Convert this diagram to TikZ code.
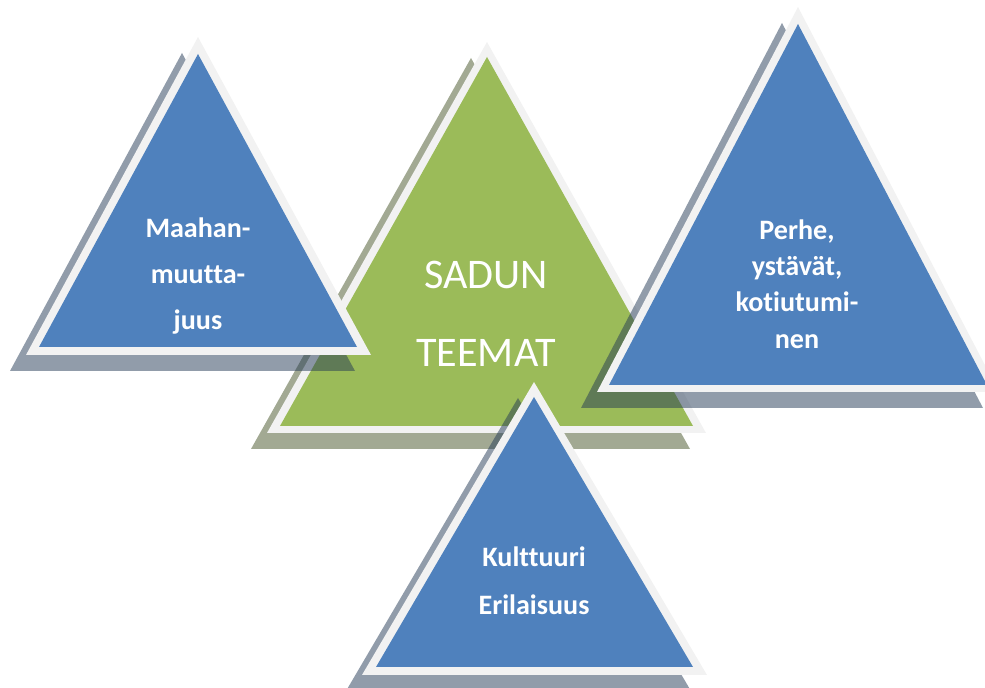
\documentclass[tikz,border=0pt]{standalone}
\usepackage{fontspec}
\setmainfont{Carlito}[Ligatures={NoCommon}]

\definecolor{tblue}{HTML}{4F81BD}
\definecolor{tgreen}{HTML}{9BBB59}
\definecolor{rim}{HTML}{F2F2F2}

\tikzset{
  castshadow/.style={fill=#1!45!black, opacity=0.5, shift={(-16,16)}},
  tritext/.style={text=white, align=center, font=\bfseries\fontsize{16}{#1}\selectfont},
  maintext/.style={text=white, align=center, font=\fontsize{24}{44.6}\selectfont}
}

\begin{document}
\begin{tikzpicture}[x=0.02cm, y=-0.02cm]
    \useasboundingbox (0,0) rectangle (985,688);
    \clip (0,0) rectangle (985,688);

    % sadun teemat
    \fill[castshadow=tgreen] (487,42) -- (267,433) -- (706,433) -- cycle;
    \fill[rim] (487,42) -- (267,433) -- (706,433) -- cycle;
    \fill[tgreen] (487,57) -- (280,426) -- (693,426) -- cycle;
    \node[maintext] (sadun) at (486,314) {SADUN\\TEEMAT};

    % vasen
    \fill[castshadow=tblue] (198,37) -- (26,355) -- (371,355) -- cycle;
    \fill[rim] (198,37) -- (26,355) -- (371,355) -- cycle;
    \fill[tblue] (198,54) -- (39,347) -- (357,347) -- cycle;
    \node[tritext=26] (maahan) at (198,276) {Maahan-\\muutta-\\juus};

    % oikea
    \fill[castshadow=tblue] (798,7) -- (597,392) -- (999,392) -- cycle;
    \fill[rim] (798,7) -- (597,392) -- (999,392) -- cycle;
    \fill[tblue] (798,24) -- (609,385) -- (987,385) -- cycle;
    \node[tritext=20.7] (perhe) at (797,284) {Perhe,\\ystävät,\\kotiutumi-\\nen};

    % alin
    \fill[castshadow=tblue] (534,382) -- (362,675) -- (707,675) -- cycle;
    \fill[rim] (534,382) -- (362,675) -- (707,675) -- cycle;
    \fill[tblue] (534,397) -- (376,667) -- (693,667) -- cycle;
    \node[tritext=27.5] (kulttuuri) at (534,581) {Kulttuuri\\Erilaisuus};

\end{tikzpicture}
\end{document}
